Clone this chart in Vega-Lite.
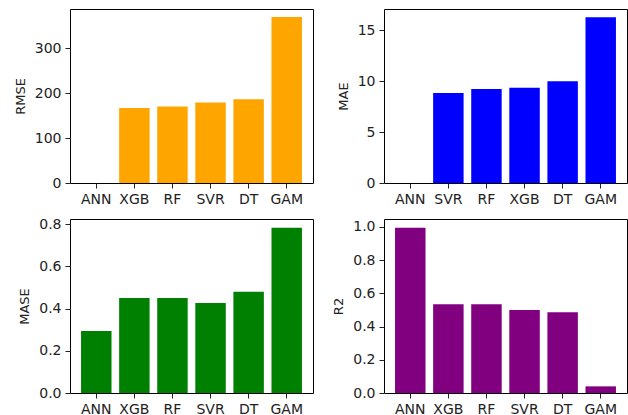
{
  "$schema": "https://vega.github.io/schema/vega-lite/v6.json",
  "padding": {"left": 13, "top": 8, "right": 2, "bottom": 2},
  "datasets": {
    "scores": [
      {"metric": "RMSE", "model": "ANN", "value": 0},
      {"metric": "RMSE", "model": "XGB", "value": 167},
      {"metric": "RMSE", "model": "RF", "value": 170},
      {"metric": "RMSE", "model": "SVR", "value": 179},
      {"metric": "RMSE", "model": "DT", "value": 186},
      {"metric": "RMSE", "model": "GAM", "value": 369},
      {"metric": "MAE", "model": "ANN", "value": 0},
      {"metric": "MAE", "model": "SVR", "value": 8.84},
      {"metric": "MAE", "model": "RF", "value": 9.23},
      {"metric": "MAE", "model": "XGB", "value": 9.36},
      {"metric": "MAE", "model": "DT", "value": 9.99},
      {"metric": "MAE", "model": "GAM", "value": 16.3},
      {"metric": "MASE", "model": "ANN", "value": 0.294},
      {"metric": "MASE", "model": "XGB", "value": 0.45},
      {"metric": "MASE", "model": "RF", "value": 0.45},
      {"metric": "MASE", "model": "SVR", "value": 0.426},
      {"metric": "MASE", "model": "DT", "value": 0.48},
      {"metric": "MASE", "model": "GAM", "value": 0.783},
      {"metric": "R2", "model": "ANN", "value": 0.995},
      {"metric": "R2", "model": "XGB", "value": 0.534},
      {"metric": "R2", "model": "RF", "value": 0.534},
      {"metric": "R2", "model": "SVR", "value": 0.5},
      {"metric": "R2", "model": "DT", "value": 0.486},
      {"metric": "R2", "model": "GAM", "value": 0.04}
    ]
  },
  "config": {
    "view": {"stroke": "#000", "strokeWidth": 1},
    "font": "DejaVu Sans",
    "axis": {
      "domain": false,
      "grid": false,
      "tickColor": "#222",
      "tickSize": 5,
      "labelFont": "DejaVu Sans",
      "labelFontSize": 14,
      "labelColor": "#222",
      "titleFont": "DejaVu Sans",
      "titleFontSize": 13,
      "titleFontWeight": "normal",
      "titleColor": "#222",
      "labelPadding": 4,
      "titlePadding": 7
    }
  },
  "columns": 2,
  "spacing": {"row": 9, "column": 18},
  "resolve": {"scale": {"x": "independent", "y": "independent"}},
  "concat": [
    {
      "width": 243, "height": 174,
      "data": {"name": "scores"},
      "transform": [{"filter": "datum.metric === 'RMSE'"}],
      "mark": {"type": "bar", "color": "#FFA500"},
      "encoding": {
        "x": {"field": "model", "type": "nominal", "sort": null, "scale": {"paddingInner": 0.2, "paddingOuter": 0.29}, "axis": {"title": null, "labelAngle": 0}},
        "y": {"field": "value", "type": "quantitative", "scale": {"domain": [0, 387], "nice": false}, "axis": {"title": "RMSE", "values": [0, 100, 200, 300]}}
      }
    },
    {
      "width": 243, "height": 174,
      "data": {"name": "scores"},
      "transform": [{"filter": "datum.metric === 'MAE'"}],
      "mark": {"type": "bar", "color": "#0000FF"},
      "encoding": {
        "x": {"field": "model", "type": "nominal", "sort": null, "scale": {"paddingInner": 0.2, "paddingOuter": 0.29}, "axis": {"title": null, "labelAngle": 0}},
        "y": {"field": "value", "type": "quantitative", "scale": {"domain": [0, 17.1], "nice": false}, "axis": {"title": "MAE", "values": [0, 5, 10, 15]}}
      }
    },
    {
      "width": 243, "height": 174,
      "data": {"name": "scores"},
      "transform": [{"filter": "datum.metric === 'MASE'"}],
      "mark": {"type": "bar", "color": "#008000"},
      "encoding": {
        "x": {"field": "model", "type": "nominal", "sort": null, "scale": {"paddingInner": 0.2, "paddingOuter": 0.29}, "axis": {"title": null, "labelAngle": 0}},
        "y": {"field": "value", "type": "quantitative", "scale": {"domain": [0, 0.824], "nice": false}, "axis": {"title": "MASE", "values": [0, 0.2, 0.4, 0.6, 0.8], "format": ".1f"}}
      }
    },
    {
      "width": 243, "height": 174,
      "data": {"name": "scores"},
      "transform": [{"filter": "datum.metric === 'R2'"}],
      "mark": {"type": "bar", "color": "#800080"},
      "encoding": {
        "x": {"field": "model", "type": "nominal", "sort": null, "scale": {"paddingInner": 0.2, "paddingOuter": 0.29}, "axis": {"title": null, "labelAngle": 0}},
        "y": {"field": "value", "type": "quantitative", "scale": {"domain": [0, 1.048], "nice": false}, "axis": {"title": "R2", "values": [0, 0.2, 0.4, 0.6, 0.8, 1.0], "format": ".1f"}}
      }
    }
  ]
}
